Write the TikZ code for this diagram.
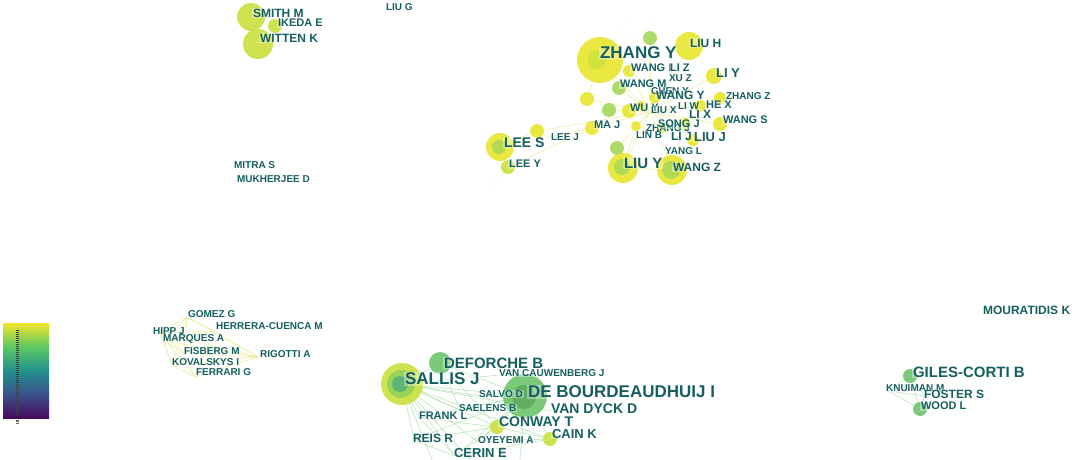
\documentclass[tikz,border=0pt]{standalone}
\usepackage{fontspec}
\setmainfont{Liberation Sans}
\usetikzlibrary{backgrounds}
\definecolor{labc}{HTML}{155F61}
\definecolor{cy}{HTML}{E6E62C}
\definecolor{cyl}{HTML}{EEEE70}
\definecolor{cyg}{HTML}{C9E03C}
\definecolor{cg}{HTML}{A4D65A}
\definecolor{cg2}{HTML}{8CCE5C}
\definecolor{cgr}{HTML}{6CC46C}
\definecolor{cgd}{HTML}{4FAE7C}
\definecolor{eyel}{HTML}{E8EE9A}
\definecolor{egrn}{HTML}{A8DCA8}
\definecolor{vpu}{HTML}{450A5C}
\definecolor{vbl}{HTML}{3B528B}
\definecolor{vte}{HTML}{21918C}
\definecolor{vgr}{HTML}{5EC962}
\definecolor{vye}{HTML}{F0E52A}
\pgfdeclareverticalshading{viridis}{100bp}{color(0bp)=(vpu); color(25bp)=(vpu); color(37.5bp)=(vbl); color(50bp)=(vte); color(62.5bp)=(vgr); color(75bp)=(vye); color(100bp)=(vye)}
\tikzset{
  lb/.style={anchor=west, inner sep=0.6pt, text=labc, fill=white, fill opacity=0.35, text opacity=1},
  s10/.style={lb, font=\fontsize{7.5}{9}\selectfont\bfseries},
  s11/.style={lb, font=\fontsize{8.25}{9}\selectfont\bfseries},
  s12/.style={lb, font=\fontsize{9}{10}\selectfont\bfseries},
  s13/.style={lb, font=\fontsize{9.75}{11}\selectfont\bfseries},
  s14/.style={lb, font=\fontsize{10.5}{12}\selectfont\bfseries},
  s15/.style={lb, font=\fontsize{11.25}{13}\selectfont\bfseries},
  s17/.style={lb, font=\fontsize{12.75}{14}\selectfont\bfseries},
  bub/.style={circle, inner sep=0pt, minimum size={#1*1.5pt}, fill opacity=0.9},
  inn/.style={circle, inner sep=0pt, minimum size={#1*1.5pt}, fill opacity=0.8},
  ey/.style={draw=eyel, line width=0.5pt, draw opacity=0.8},
  eyf/.style={draw=eyel, line width=0.4pt, draw opacity=0.4},
  eg/.style={draw=egrn, line width=0.5pt, draw opacity=0.7},
}
\begin{document}
\begin{tikzpicture}[x=0.75pt,y=-0.75pt]
\useasboundingbox (0,0) rectangle (1072,460);

% colour bar
\shade[shading=viridis] (3,323) rectangle (49,418);
\foreach \i in {0,...,42} \draw[black!75, line width=0.35pt] (15.5,{330+2*\i}) -- (19,{330+2*\i});
\foreach \i in {0,1,2} \draw[black!60, line width=0.35pt] (15.5,{420+1.6*\i}) -- (19,{420+1.6*\i});

% ---------- bubbles ----------
% top left
\node[bub=14, fill=cyg] (csmith) at (251,17) {};
\node[bub=15, fill=cyg] (cwitten) at (258,44) {};
\node[bub=7, fill=cyg] (cikeda) at (275,26) {};
% top cluster
\node[bub=23, fill=cy] (czhangy) at (600,60) {};
\node[inn=9, fill=cyg] (izhangy) at (597,60) {};
\node[bub=14, fill=cy] (cliuh) at (689,46) {};
\node[bub=7, fill=cg] (cg1) at (650,38) {};
\node[bub=6, fill=cy] (cwangl) at (629,71) {};
\node[bub=8, fill=cy] (cliy) at (714,76) {};
\node[bub=7, fill=cg] (cwangm) at (619,88) {};
\node[bub=7, fill=cy] (cy1) at (587,99) {};
\node[bub=7, fill=cg] (cg2) at (609,110) {};
\node[bub=7, fill=cy] (cwuy) at (629,111) {};
\node[bub=6, fill=cy] (cwangy) at (655,97) {};
\node[bub=5, fill=cy] (cs1) at (641,106) {};
\node[bub=6, fill=cy] (chex) at (700,106) {};
\node[bub=6, fill=cy] (czhangz) at (720,98) {};
\node[bub=6, fill=cy] (clix) at (685,124) {};
\node[bub=5, fill=cy] (csongj) at (662,128) {};
\node[bub=7, fill=cy] (cwangs) at (720,124) {};
\node[bub=7, fill=cy] (cmaj) at (592,128) {};
\node[bub=5, fill=cy] (clinb) at (636,126) {};
\node[bub=6, fill=cy] (cliuj) at (693,140) {};
\node[bub=7, fill=cg] (cg3) at (617,148) {};
\node[bub=15, fill=cy] (cliuy) at (623,168) {};
\node[inn=8, fill=cg] (iliuy) at (622,167) {};
\node[bub=15, fill=cy] (cwangz) at (672,170) {};
\node[inn=9, fill=cg] (iwangz) at (671,170) {};
\node[bub=7, fill=cy] (cleej) at (537,131) {};
\node[bub=14, fill=cy] (clees) at (500,147) {};
\node[inn=7, fill=cg] (ilees) at (499,147) {};
\node[bub=7, fill=cyg] (cleey) at (508,167) {};
% bottom cluster
\node[bub=21, fill=cyg] (csallis) at (402,384) {};
\node[inn=14, fill=cg2] (isallis) at (401,384) {};
\node[inn=8, fill=cgd] (jsallis) at (400,384) {};
\node[bub=11, fill=cgr] (cdeforche) at (440,363) {};
\node[bub=22, fill=cgr] (cdebour) at (525,396) {};
\node[inn=12, fill=cgr!85!black] (idebour) at (524,397) {};
\node[bub=7, fill=cyg] (cconway) at (497,427) {};
\node[bub=7, fill=cyg] (ccain) at (550,439) {};
% right cluster
\node[bub=7, fill=cgr] (cgiles) at (910,376) {};
\node[bub=7, fill=cgr] (cwood) at (920,409) {};

% ---------- coordinates for edge ends ----------
\coordinate (ptop1) at (628,18);
\coordinate (ptop2) at (655,22);
\coordinate (pleft) at (490,190);
\coordinate (pcen) at (650,112);
\coordinate (pyang) at (666,152);
\coordinate (pgomez) at (187,317);
\coordinate (pherrera) at (214,331);
\coordinate (phipp) at (160,333);
\coordinate (pmarques) at (164,341);
\coordinate (pfisberg) at (184,353);
\coordinate (prigotti) at (258,357);
\coordinate (pkoval) at (172,365);
\coordinate (pferrari) at (195,377);
\coordinate (pvancauw) at (500,375);
\coordinate (psalvo) at (480,396);
\coordinate (psaelens) at (460,410);
\coordinate (pfrank) at (420,418);
\coordinate (preis) at (414,440);
\coordinate (poyeyemi) at (478,442);
\coordinate (pcerin) at (455,456);
\coordinate (pvandyck) at (552,411);
\coordinate (pbot1) at (432,460);
\coordinate (pbot2) at (470,460);
\coordinate (pbot3) at (520,460);
\coordinate (pknuiman) at (888,391);
\coordinate (pfoster) at (925,396);

% ---------- edges ----------
\begin{pgfonlayer}{background}
\foreach \a/\b in {czhangy/ptop1, czhangy/ptop2, cleey/pleft}
  \draw[eyf] (\a.center) -- (\b);
\foreach \a/\b in {czhangy/cwangl, czhangy/cwangm, czhangy/cy1, czhangy/pcen, cg1/pcen, cliuh/pcen, cwangl/pcen, cliy/pcen, cwangm/pcen, cy1/pcen, cg2/pcen, cwuy/pcen, cwangy/pcen, chex/pcen, czhangz/pcen, clix/pcen, cwangs/pcen, cmaj/pcen, clinb/pcen, cliuj/pcen, cg3/pcen, cliuy/pcen, cwangz/pcen, cleej/pcen, clees/cleej, clees/cmaj, cleey/cmaj, cliuy/cwangz, cliuy/cg3, cwangz/pyang, cliuj/cwangz, cliuy/clinb, cwangz/clix}
  \draw[ey] (\a.center) -- (\b);
\foreach \a/\b in {pgomez/pherrera, pgomez/phipp, pgomez/pmarques, pgomez/prigotti, pgomez/pfisberg, pgomez/pkoval, pherrera/phipp, pherrera/pmarques, pherrera/prigotti, pherrera/pferrari, phipp/pmarques, phipp/pfisberg, phipp/pkoval, phipp/pferrari, pmarques/pfisberg, pmarques/pkoval, pmarques/prigotti, pfisberg/prigotti, pfisberg/pkoval, pfisberg/pferrari, pkoval/prigotti, pkoval/pferrari, pferrari/prigotti, phipp/prigotti}
  \draw[ey] (\a) -- (\b);
\foreach \b in {cdeforche, cdebour, cconway, ccain, pvancauw, psalvo, psaelens, pfrank, preis, poyeyemi, pcerin, pvandyck, pbot1, pbot2}
  \draw[eg] (csallis.center) -- (\b);
\foreach \b in {cdeforche, cconway, ccain, psaelens, pfrank, preis, poyeyemi, pcerin, pbot3, psalvo}
  \draw[eg] (cdebour.center) -- (\b);
\foreach \a/\b in {cconway/ccain, cconway/pcerin, cconway/preis, cconway/pfrank, ccain/pcerin, ccain/poyeyemi, cdeforche/cconway, cdeforche/psaelens, pfrank/pcerin, preis/pcerin}
  \draw[eg] (\a) -- (\b);
\foreach \a/\b in {pknuiman/cgiles, pknuiman/cwood, pknuiman/pfoster, cgiles/cwood, cgiles/pfoster, pfoster/cwood}
  \draw[eg] (\a) -- (\b);
\end{pgfonlayer}

% ---------- labels ----------
\node[s12] (tsmith) at (252,13) {SMITH M};
\node[s11] (tikeda) at (277,23) {IKEDA E};
\node[s12] (twitten) at (259,38) {WITTEN K};
\node[s10] (tliug) at (385,7) {LIU G};
\node[s10] (tmitra) at (233,165) {MITRA S};
\node[s10] (tmukh) at (236,179) {MUKHERJEE D};

\node[s17] (tzhangy) at (599,53) {ZHANG Y};
\node[s12] (tliuh) at (689,43) {LIU H};
\node[s11] (twangl) at (630,68) {WANG L};
\node[s11] (tliz) at (669,68) {LI Z};
\node[s10] (txuz) at (668,78) {XU Z};
\node[s13] (tliy) at (715,73) {LI Y};
\node[s11] (twangm) at (619,84) {WANG M};
\node[s10] (tcheny) at (650,91) {CHEN Y};
\node[s12] (twangy) at (655,95) {WANG Y};
\node[s10] (tzhangz) at (725,96) {ZHANG Z};
\node[s11] (thex) at (705,105) {HE X};
\node[s11] (twuy) at (629,108) {WU Y};
\node[s10] (tliuw) at (677,106) {LI W};
\node[s10] (tliux) at (650,110) {LIU X};
\node[s12] (tlix) at (688,114) {LI X};
\node[s11] (twangs) at (722,120) {WANG S};
\node[s11] (tmaj) at (593,125) {MA J};
\node[s10] (tzhangj) at (645,128) {ZHANG J};
\node[s11] (tsongj) at (657,124) {SONG J};
\node[s10] (tlinb) at (635,135) {LIN B};
\node[s12] (tlij) at (670,136) {LI J};
\node[s13] (tliuj) at (693,137) {LIU J};
\node[s10] (tyangl) at (664,151) {YANG L};
\node[s15] (tliuy) at (623,163) {LIU Y};
\node[s12] (twangz) at (672,167) {WANG Z};
\node[s14] (tlees) at (503,143) {LEE S};
\node[s10] (tleej) at (550,137) {LEE J};
\node[s11] (tleey) at (508,164) {LEE Y};

\node[s10] (tgomez) at (187,314) {GOMEZ G};
\node[s10] (therrera) at (215,326) {HERRERA-CUENCA M};
\node[s10] (thipp) at (152,331) {HIPP J};
\node[s10] (tmarques) at (162,339) {MARQUES A};
\node[s10] (tfisberg) at (183,351) {FISBERG M};
\node[s10] (trigotti) at (259,354) {RIGOTTI A};
\node[s10] (tkoval) at (171,362) {KOVALSKYS I};
\node[s10] (tferrari) at (195,372) {FERRARI G};

\node[s15] (tdeforche) at (443,363) {DEFORCHE B};
\node[s10] (tvancauw) at (498,373) {VAN CAUWENBERG J};
\node[s17] (tsallis) at (404,379) {SALLIS J};
\node[s10] (tsalvo) at (478,394) {SALVO D};
\node[s17] (tdebour) at (527,392) {DE BOURDEAUDHUIJ I};
\node[s10] (tsaelens) at (458,408) {SAELENS B};
\node[s14] (tvandyck) at (550,409) {VAN DYCK D};
\node[s11] (tfrank) at (418,416) {FRANK L};
\node[s14] (tconway) at (498,422) {CONWAY T};
\node[s13] (tcain) at (551,434) {CAIN K};
\node[s12] (treis) at (412,438) {REIS R};
\node[s10] (toyeyemi) at (477,440) {OYEYEMI A};
\node[s13] (tcerin) at (453,453) {CERIN E};

\node[s12] (tmourat) at (982,310) {MOURATIDIS K};
\node[s15] (tgiles) at (912,372) {GILES-CORTI B};
\node[s10] (tknuiman) at (885,388) {KNUIMAN M};
\node[s12] (tfoster) at (923,394) {FOSTER S};
\node[s11] (twood) at (920,406) {WOOD L};
\end{tikzpicture}
\end{document}
